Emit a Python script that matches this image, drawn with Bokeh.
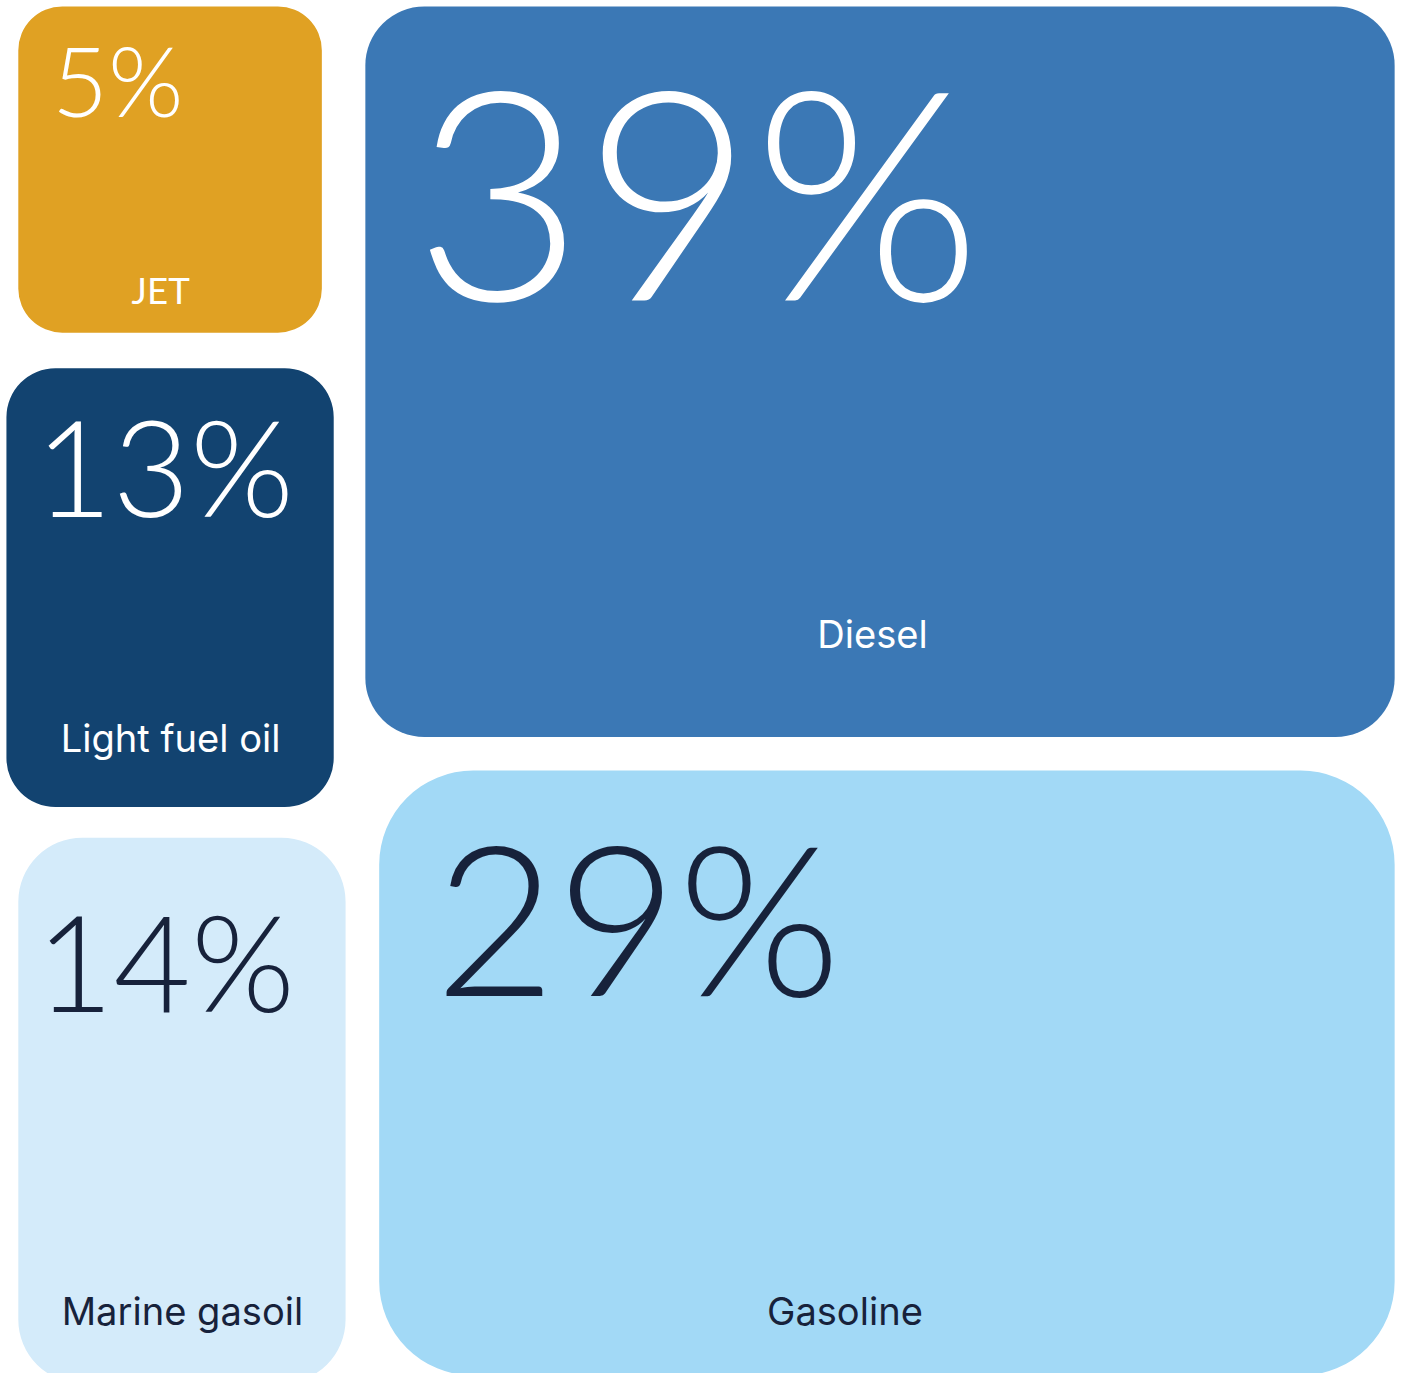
from bokeh.plotting import figure
from bokeh.models import ColumnDataSource, Range1d, BoxAnnotation
from bokeh.core.properties import value
from bokeh.embed import file_html
from bokeh.resources import INLINE

# ---- data ----
categories = ["JET", "Light fuel oil", "Marine gasoil", "Diesel", "Gasoline"]
shares = [5, 13, 14, 39, 29]
share_labels = [f"{v}%" for v in shares]

# ---- layout (reference canvas units, 1423 x 1389) ----
REF_W, REF_H = 1423, 1389
W, H = 1407, 1373
S = W / REF_W  # px per unit

box_left = [18, 6, 18, 369, 383]
box_right = [325, 337, 349, 1410, 1410]
box_top = [6, 372, 847, 6, 779]
box_bottom = [336, 816, 1399, 745, 1391]
box_radius = [45, 50, 65, 60, 95]
box_color = ["#E0A123", "#124370", "#D4EBFA", "#3B78B5", "#A2D9F6"]
text_color = ["#FFFFFF", "#FFFFFF", "#17223B", "#FFFFFF", "#17223B"]

# percentage numbers: glyph anchor x, baseline y, font size (units)
num_x = [52, 35, 36, 418, 439]
num_base = [118, 523, 1023, 304, 1008]
num_size = [98, 135, 135, 296, 212]
num_font = "Lato Light"
NUM_SHIFT = 0.39  # renderer places alphabetic baseline this far (x size) below anchor

# category labels: centre x, baseline y, font size (units)
lab_x = [162, 172, 184, 882, 854]
lab_base = [308, 762, 1342, 657, 1342]
lab_size = [37, 38.5, 38.5, 38.5, 38.5]
lab_font = ["Lato", "Inter", "Inter", "Inter", "Inter"]
LAB_SHIFT = 0.42

p = figure(width=W, height=H, output_backend="svg", toolbar_location=None,
           x_range=Range1d(0, REF_W), y_range=Range1d(REF_H, 0),
           min_border=0, outline_line_color=None, background_fill_color="white",
           border_fill_color="white")
p.axis.visible = False
p.grid.visible = False

for l, r, t, b, rad, c in zip(box_left, box_right, box_top, box_bottom, box_radius, box_color):
    p.add_layout(BoxAnnotation(left=l, right=r, top=t, bottom=b, fill_color=c, fill_alpha=1.0,
                               line_color=None, border_radius=int(round(rad * S)), level="underlay"))

num_src = ColumnDataSource(dict(
    x=num_x,
    y=[b - NUM_SHIFT * s for b, s in zip(num_base, num_size)],
    text=share_labels,
    size=[f"{s * S:.1f}px" for s in num_size],
    color=text_color))
p.text(x="x", y="y", text="text", source=num_src, text_font=value(num_font),
       text_font_size="size", text_color="color", text_align="left", text_baseline="alphabetic")

lab_src = ColumnDataSource(dict(
    x=lab_x,
    y=[b - LAB_SHIFT * s for b, s in zip(lab_base, lab_size)],
    text=categories,
    size=[f"{s * S:.1f}px" for s in lab_size],
    font=lab_font,
    color=text_color))
p.text(x="x", y="y", text="text", source=lab_src, text_font="font",
       text_font_size="size", text_color="color", text_align="center", text_baseline="alphabetic")

open("out.html", "w").write(file_html(p, INLINE))
